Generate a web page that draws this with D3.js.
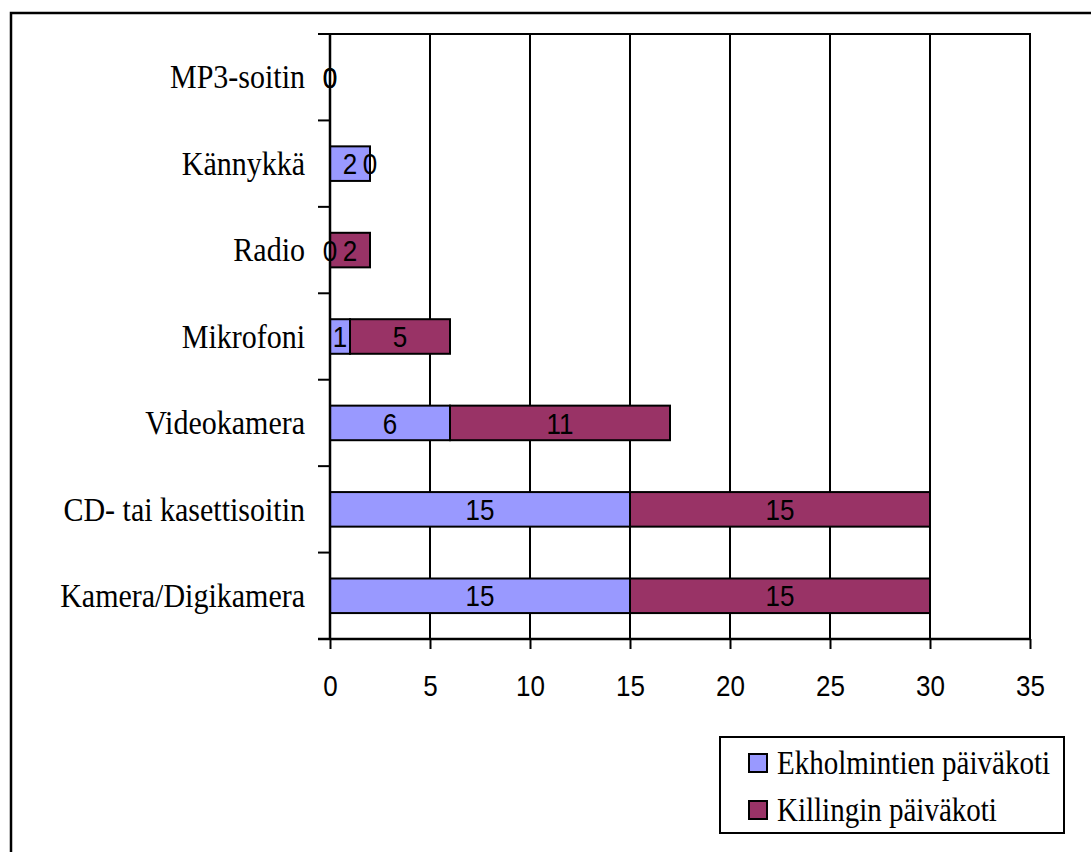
<!DOCTYPE html>
<html>
<head>
<meta charset="utf-8">
<script src="https://cdn.jsdelivr.net/npm/d3@7"></script>
<style>
  body { margin: 0; background: #fff; }
  .cat { font-family: "Liberation Serif", "Times New Roman", serif; font-size: 30px; }
  .num { font-family: "Liberation Sans", Arial, sans-serif; font-size: 26px; }
  .legend text { font-family: "Liberation Serif", "Times New Roman", serif; font-size: 29px; }
</style>
</head>
<body>
<div id="chart"></div>
<script>
// categories from bottom to top
const categories = ["Kamera/Digikamera", "CD- tai kasettisoitin", "Videokamera", "Mikrofoni", "Radio", "Kännykkä", "MP3-soitin"];
const ekholm = [15, 15, 6, 1, 0, 2, 0];
const killinki = [15, 15, 11, 5, 2, 0, 0];
const seriesNames = ["Ekholmintien päiväkoti", "Killingin päiväkoti"];
const seriesColors = ["#9999ff", "#993366"];
const xTicks = [0, 5, 10, 15, 20, 25, 30, 35];

const width = 1091, height = 852;
const plot = {left: 330, right: 1030, top: 34, bottom: 639};
const stretch = 1.13; // text in the original is taller than it is wide

const svg = d3.select("#chart").append("svg")
    .attr("width", width)
    .attr("height", height);

// place a text at (px, py) with its glyphs stretched vertically
function place(sel, px, py) {
    sel.attr("x", 0).attr("y", 0)
        .attr("transform", function (d, i) {
            return `translate(${px(d, i)},${py(d, i)}) scale(1,${stretch})`;
        });
}

// outer frame (only left and top edges fall inside the picture)
svg.append("rect")
    .attr("x", 11).attr("y", 13)
    .attr("width", width + 10).attr("height", height + 10)
    .attr("fill", "none").attr("stroke", "#000").attr("stroke-width", 2.5);

let x = d3.scaleLinear().domain([0, 35]).range([plot.left, plot.right]);
let y = d3.scaleBand().domain(categories.slice().reverse())
    .range([plot.top, plot.bottom]).paddingInner(0.6).paddingOuter(0.3);
let yOuter = d3.scaleBand().domain(categories.slice().reverse())
    .range([plot.top, plot.bottom]);

//Vertical gridlines.
svg.append("g").selectAll("line")
    .data(xTicks.slice(1))
    .enter()
    .append("line")
    .attr("x1", d => x(d)).attr("x2", d => x(d))
    .attr("y1", plot.top).attr("y2", plot.bottom)
    .attr("stroke", "#000").attr("stroke-width", 2);

// top border of plot
svg.append("line")
    .attr("x1", plot.left).attr("x2", plot.right + 1)
    .attr("y1", plot.top).attr("y2", plot.top)
    .attr("stroke", "#000").attr("stroke-width", 2);

//Stacked bars.
const stackData = categories.map((c, i) => ({cat: c, a: ekholm[i], b: killinki[i]}));
const stacked = d3.stack().keys(["a", "b"])(stackData);

stacked.forEach((layer, li) => {
    let g = svg.append("g");
    g.selectAll("rect")
        .data(layer)
        .enter()
        .append("rect")
        .attr("x", d => x(d[0]))
        .attr("y", d => y(d.data.cat))
        .attr("width", d => x(d[1]) - x(d[0]))
        .attr("height", y.bandwidth())
        .attr("fill", seriesColors[li])
        .attr("stroke", d => d[1] > d[0] ? "#000" : "none")
        .attr("stroke-width", 2);
});

// x axis
let xAxis = svg.append("g")
    .attr("transform", `translate(0,${plot.bottom})`)
    .call(d3.axisBottom(x).tickValues(xTicks).tickSize(10).tickSizeOuter(0));
xAxis.attr("font-size", null).attr("font-family", null);
xAxis.select(".domain").attr("stroke-width", 2.5).attr("d", `M${plot.left - 12},0H${plot.right + 1}`);
xAxis.selectAll(".tick line").attr("stroke-width", 2);
xAxis.selectAll(".tick text")
    .attr("class", "num")
    .attr("fill", "#000")
    .attr("dy", "0.36em")
    .call(place, () => 0, () => 46);

// y axis line and tick marks between categories
svg.append("line")
    .attr("x1", plot.left).attr("x2", plot.left)
    .attr("y1", plot.top).attr("y2", plot.bottom)
    .attr("stroke", "#000").attr("stroke-width", 2.5);
svg.append("g").selectAll("line")
    .data(categories.slice().reverse())
    .enter()
    .append("line")
    .attr("x1", plot.left - 12).attr("x2", plot.left)
    .attr("y1", d => yOuter(d)).attr("y2", d => yOuter(d))
    .attr("stroke", "#000").attr("stroke-width", 2);

// category labels
svg.append("g").selectAll("text")
    .data(categories)
    .enter()
    .append("text")
    .attr("class", "cat")
    .attr("dy", "0.33em")
    .attr("text-anchor", "end")
    .text(d => d)
    .call(place, () => plot.left - 25, d => y(d) + y.bandwidth() / 2);

// value labels
stacked.forEach(layer => {
    svg.append("g").selectAll("text")
        .data(layer)
        .enter()
        .append("text")
        .attr("class", "num")
        .attr("dy", "0.36em")
        .attr("text-anchor", "middle")
        .text(d => d[1] - d[0])
        .call(place, d => x((d[0] + d[1]) / 2), d => y(d.data.cat) + y.bandwidth() / 2);
});

// legend
let legend = svg.append("g").attr("class", "legend");
legend.append("rect")
    .attr("x", 720).attr("y", 737).attr("width", 344).attr("height", 96)
    .attr("fill", "#fff").attr("stroke", "#000").attr("stroke-width", 2);
seriesNames.forEach((name, i) => {
    let cy = 763 + i * 47;
    legend.append("rect")
        .attr("x", 749).attr("y", cy - 9).attr("width", 18).attr("height", 18)
        .attr("fill", seriesColors[i]).attr("stroke", "#000").attr("stroke-width", 2);
    legend.append("text")
        .datum(name)
        .attr("dy", "0.33em")
        .text(name)
        .call(place, () => 777, () => cy);
});
</script>
</body>
</html>
